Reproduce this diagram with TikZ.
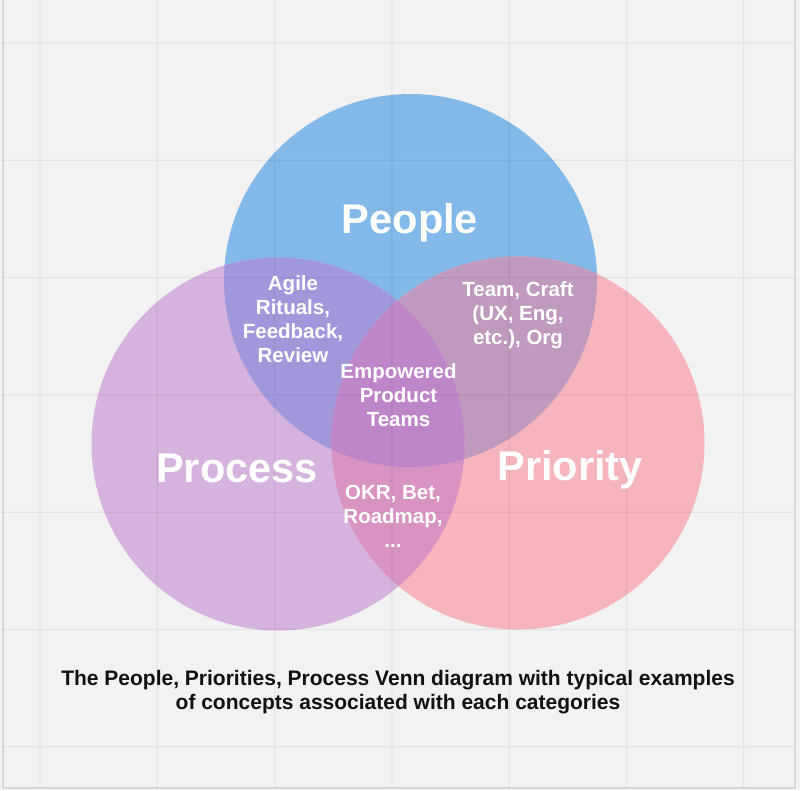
\documentclass[tikz,border=0pt]{standalone}
\usepackage{fontspec}
\setmainfont{Liberation Sans}
\definecolor{bgcol}{HTML}{F2F2F2}
\definecolor{peoplecol}{HTML}{83B9E8}
\definecolor{processcol}{HTML}{D6B3DE}
\definecolor{prioritycol}{HTML}{F6B4BC}
\definecolor{peopleprocess}{HTML}{A198DB}
\definecolor{peoplepriority}{HTML}{C09ABE}
\definecolor{processpriority}{HTML}{D993C3}
\definecolor{allthree}{HTML}{BE85C8}
\definecolor{captioncol}{HTML}{111111}
\begin{document}
\begin{tikzpicture}[x=1pt,y=-1pt,
  gridline/.style={black,line width=1.2pt},
  frameline/.style={black,line width=1.6pt},
  biglabel/.style={text=white,font=\bfseries\fontsize{41.5}{50}\selectfont,anchor=base,inner sep=0pt},
  smalllabel/.style={text=white,font=\bfseries\fontsize{20.5}{24}\selectfont,align=center,anchor=north,inner sep=0pt},
  captionlabel/.style={text=captioncol,font=\bfseries\fontsize{21}{24}\selectfont,align=center,anchor=north,inner sep=0pt}]
  % canvas
  \fill[bgcol] (0,0) rectangle (800,790);
  \useasboundingbox (0,0) rectangle (800,790);

  % circle centres
  \coordinate (cPeople) at (410.5,280.5);
  \coordinate (cProcess) at (278,444);
  \coordinate (cPriority) at (518,443);
  \def\rad{186.5}

  % single sets
  \fill[peoplecol] (cPeople) circle (\rad);
  \fill[processcol] (cProcess) circle (\rad);
  \fill[prioritycol] (cPriority) circle (\rad);
  % pairwise overlaps
  \begin{scope}
    \clip (cPeople) circle (\rad);
    \fill[peopleprocess] (cProcess) circle (\rad);
  \end{scope}
  \begin{scope}
    \clip (cPeople) circle (\rad);
    \fill[peoplepriority] (cPriority) circle (\rad);
  \end{scope}
  \begin{scope}
    \clip (cProcess) circle (\rad);
    \fill[processpriority] (cPriority) circle (\rad);
  \end{scope}
  % centre
  \begin{scope}
    \clip (cPeople) circle (\rad);
    \clip (cProcess) circle (\rad);
    \fill[allthree] (cPriority) circle (\rad);
  \end{scope}

  % faint grid over everything
  \begin{scope}[transparency group,opacity=0.06]
    \foreach \k in {0,...,6} {
      \draw[gridline] ({40+117.3*\k},0) -- ({40+117.3*\k},788);
      \draw[gridline] (3,{43+117.3*\k}) -- (795,{43+117.3*\k});
    }
  \end{scope}
  \begin{scope}[transparency group,opacity=0.1]
    \draw[frameline] (3,0) -- (3,788) -- (795,788) -- (795,0);
  \end{scope}

  % set names
  \node[biglabel] (people) at (410,233) {People};
  \node[biglabel] (process) at (237,482) {Process};
  \node[biglabel] (priority) at (570,480) {Priority};

  % overlap contents
  \node[smalllabel] (agile) at (293,275) {Agile\\Rituals,\\Feedback,\\Review};
  \node[smalllabel] (team) at (518,281) {Team, Craft\\(UX, Eng,\\etc.), Org};
  \node[smalllabel] (empowered) at (398.5,363) {Empowered\\Product\\Teams};
  \node[smalllabel] (okr) at (393,485) {OKR, Bet,\\Roadmap,\\...};

  % caption
  \node[captionlabel] (caption) at (398,670) {The People, Priorities, Process Venn diagram with typical examples\\of concepts associated with each categories};
\end{tikzpicture}
\end{document}
